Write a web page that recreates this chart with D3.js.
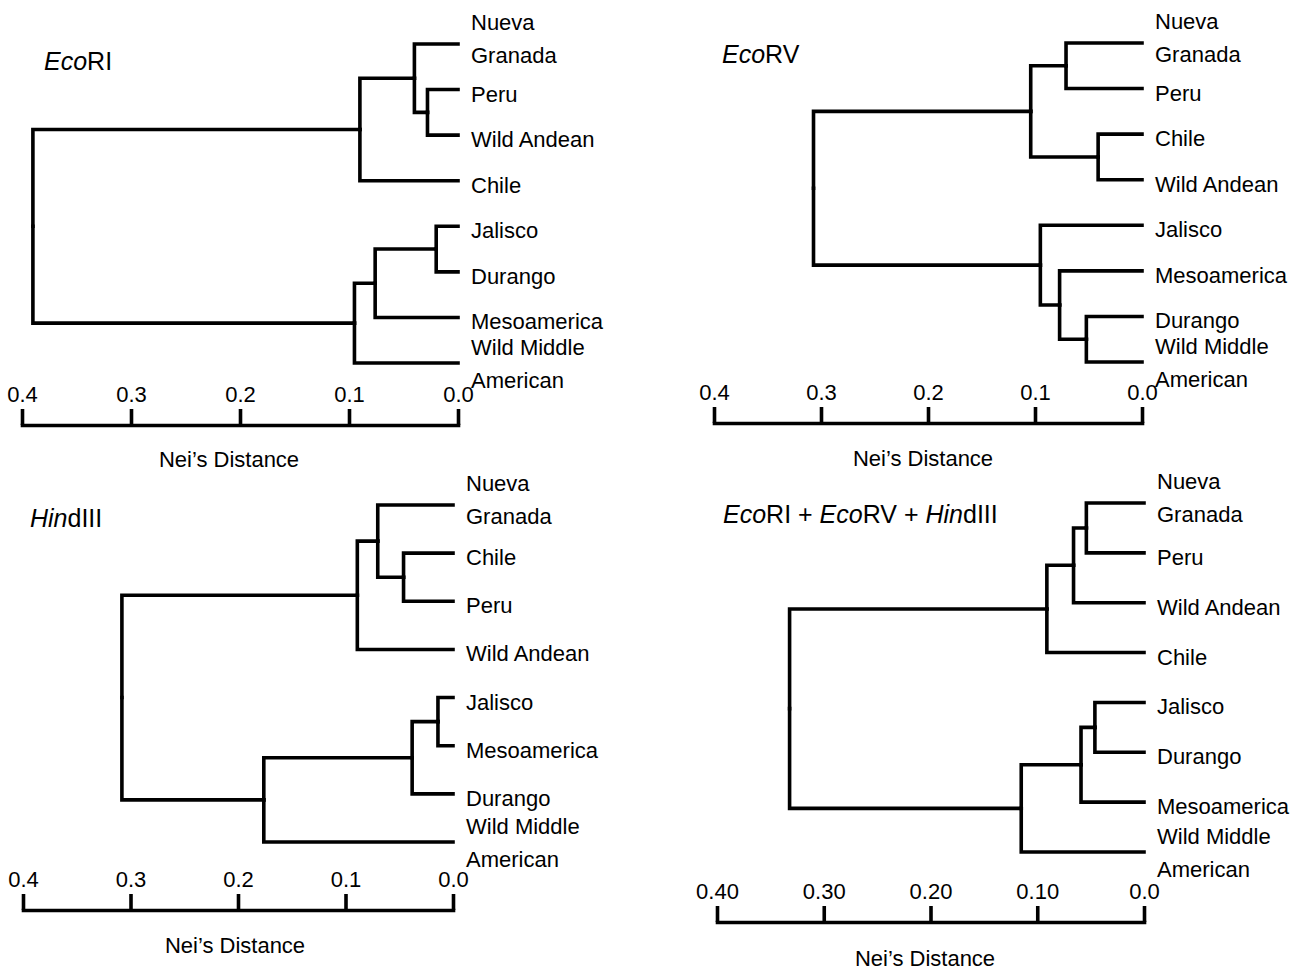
<!DOCTYPE html>
<html>
<head>
<meta charset="utf-8">
<script src="https://cdn.jsdelivr.net/npm/d3@7"></script>
<style>
  body { margin: 0; background: #fff; }
  svg { display: block; }
  text { font-family: "Liberation Sans", Arial, Helvetica, sans-serif; fill: #000; }
</style>
</head>
<body>
<svg id="chart" width="1296" height="970"></svg>
<script>
// leaf order (top to bottom) and merges [childA, childB, Nei's distance]
// a child is a leaf name or the index of an earlier merge
const ecoRI_leaves = ["Nueva Granada", "Peru", "Wild Andean", "Chile", "Jalisco", "Durango", "Mesoamerica", "Wild Middle American"];
const ecoRI_merges = [
  ["Peru", "Wild Andean", 0.028],
  ["Nueva Granada", 0, 0.040],
  [1, "Chile", 0.090],
  ["Jalisco", "Durango", 0.020],
  [3, "Mesoamerica", 0.076],
  [4, "Wild Middle American", 0.095],
  [2, 5, 0.390]
];

const ecoRV_leaves = ["Nueva Granada", "Peru", "Chile", "Wild Andean", "Jalisco", "Mesoamerica", "Durango", "Wild Middle American"];
const ecoRV_merges = [
  ["Nueva Granada", "Peru", 0.071],
  ["Chile", "Wild Andean", 0.041],
  [0, 1, 0.104],
  ["Durango", "Wild Middle American", 0.052],
  ["Mesoamerica", 3, 0.077],
  ["Jalisco", 4, 0.095],
  [2, 5, 0.307]
];

const hind_leaves = ["Nueva Granada", "Chile", "Peru", "Wild Andean", "Jalisco", "Mesoamerica", "Durango", "Wild Middle American"];
const hind_merges = [
  ["Chile", "Peru", 0.046],
  ["Nueva Granada", 0, 0.070],
  [1, "Wild Andean", 0.089],
  ["Jalisco", "Mesoamerica", 0.014],
  [3, "Durango", 0.038],
  [4, "Wild Middle American", 0.176],
  [2, 5, 0.308]
];

const all_leaves = ["Nueva Granada", "Peru", "Wild Andean", "Chile", "Jalisco", "Durango", "Mesoamerica", "Wild Middle American"];
const all_merges = [
  ["Nueva Granada", "Peru", 0.054],
  [0, "Wild Andean", 0.066],
  [1, "Chile", 0.091],
  ["Jalisco", "Durango", 0.046],
  [3, "Mesoamerica", 0.059],
  [4, "Wild Middle American", 0.115],
  [2, 5, 0.332]
];

const tickValues = [0.4, 0.3, 0.2, 0.1, 0.0];
const tickLabels = ["0.4", "0.3", "0.2", "0.1", "0.0"];
const tickLabelsCombined = ["0.40", "0.30", "0.20", "0.10", "0.0"];
const axisTitle = "Nei\u2019s Distance";

// two-line leaf labels: lines and baseline offsets from the branch
const wrapped = {
  "Nueva Granada": {lines: ["Nueva", "Granada"], dy: [-14, 19]},
  "Wild Middle American": {lines: ["Wild Middle", "American"], dy: [-8, 25]}
};

// title parts: [text, italic]
const panels = [
  {title: [["Eco", true], ["RI", false]], leaves: ecoRI_leaves, merges: ecoRI_merges, ticks: tickLabels,
   xr: [22, 458], yr: [44, 363], axisY: 425, titleXY: [44, 70], labelXY: [229, 467]},
  {title: [["Eco", true], ["RV", false]], leaves: ecoRV_leaves, merges: ecoRV_merges, ticks: tickLabels,
   xr: [714, 1142], yr: [43, 362], axisY: 423, titleXY: [722, 63], labelXY: [923, 466]},
  {title: [["Hin", true], ["dIII", false]], leaves: hind_leaves, merges: hind_merges, ticks: tickLabels,
   xr: [23, 453], yr: [505, 842], axisY: 910, titleXY: [30, 527], labelXY: [235, 953]},
  {title: [["Eco", true], ["RI + ", false], ["Eco", true], ["RV + ", false], ["Hin", true], ["dIII", false]],
   leaves: all_leaves, merges: all_merges, ticks: tickLabelsCombined,
   xr: [717, 1144], yr: [503, 852], axisY: 922, titleXY: [723, 523], labelXY: [925, 966]}
];

const svg = d3.select("#chart");
const lineW = 3.6;

function buildTree(merges) {
  const nodes = [];
  merges.forEach(function (m) {
    const kids = [m[0], m[1]].map(function (c) {
      return typeof c === "number" ? nodes[c] : {name: c, dist: 0};
    });
    nodes.push({dist: m[2], children: kids});
  });
  return d3.hierarchy(nodes[nodes.length - 1]);
}

panels.forEach(function (p) {
  const g = svg.append("g");
  const x = d3.scaleLinear().domain([0.4, 0]).range(p.xr);
  const y = d3.scalePoint().domain(p.leaves).range(p.yr);

  const root = buildTree(p.merges);
  root.eachAfter(function (d) {
    d.px = x(d.data.dist);
    d.py = d.children ? d3.mean(d.children, c => c.py) : y(d.data.name);
  });

  // branches
  g.append("g").selectAll("path")
    .data(root.links())
    .enter()
    .append("path")
    .attr("d", d => "M" + d.source.px + "," + d.source.py + "V" + d.target.py + "H" + d.target.px)
    .attr("fill", "none")
    .attr("stroke", "#000")
    .attr("stroke-width", lineW)
    .attr("stroke-linecap", "square");

  // leaf labels
  const lab = g.append("g").selectAll("text")
    .data(root.leaves())
    .enter()
    .append("text")
    .attr("x", d => d.px + 13)
    .attr("y", d => d.py)
    .style("font-size", "22px");
  lab.each(function (d) {
    const t = d3.select(this);
    const w = wrapped[d.data.name];
    if (w) {
      w.lines.forEach(function (s, i) {
        t.append("tspan").attr("x", d.px + 13).attr("y", d.py + w.dy[i]).text(s);
      });
    } else {
      t.attr("y", d.py + 12).text(d.data.name);
    }
  });

  // distance axis
  const axis = d3.axisTop(x)
    .tickValues(tickValues)
    .tickFormat((v, i) => p.ticks[i])
    .tickSize(16)
    .tickSizeOuter(0)
    .tickPadding(7);
  const ax = g.append("g")
    .attr("transform", "translate(0," + p.axisY + ")")
    .call(axis);
  ax.select(".domain").attr("stroke-width", lineW).attr("stroke-linecap", "square");
  ax.selectAll(".tick line").attr("stroke-width", lineW);
  ax.selectAll(".tick text")
    .style("font-size", "22px")
    .style("font-family", "'Liberation Sans', Arial, Helvetica, sans-serif");

  g.append("text")
    .attr("x", p.labelXY[0])
    .attr("y", p.labelXY[1])
    .attr("text-anchor", "middle")
    .style("font-size", "22px")
    .text(axisTitle);

  // panel title
  const tt = g.append("text")
    .attr("x", p.titleXY[0])
    .attr("y", p.titleXY[1])
    .style("font-size", "25px");
  p.title.forEach(function (part) {
    tt.append("tspan")
      .style("font-style", part[1] ? "italic" : "normal")
      .text(part[0]);
  });
});
</script>
</body>
</html>
